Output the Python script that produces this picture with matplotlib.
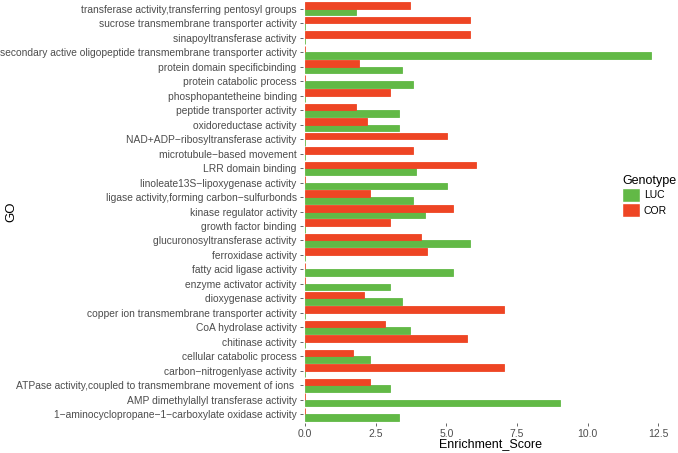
import numpy as np
import matplotlib
matplotlib.use("Agg")
import matplotlib.pyplot as plt
from matplotlib.patches import Patch

plt.rcParams["font.family"] = ["Liberation Sans", "DejaVu Sans"]

# categories listed bottom -> top
terms = [
    "1\u2212aminocyclopropane\u22121\u2212carboxylate oxidase activity",
    "AMP dimethylallyl transferase activity",
    "ATPase activity,coupled to transmembrane movement of ions ",
    "carbon\u2212nitrogenlyase activity",
    "cellular catabolic process",
    "chitinase activity",
    "CoA hydrolase activity",
    "copper ion transmembrane transporter activity",
    "dioxygenase activity",
    "enzyme activator activity",
    "fatty acid ligase activity",
    "ferroxidase activity",
    "glucuronosyltransferase activity",
    "growth factor binding",
    "kinase regulator activity",
    "ligase activity,forming carbon\u2212sulfurbonds",
    "linoleate13S\u2212lipoxygenase activity",
    "LRR domain binding",
    "microtubule\u2212based movement",
    "NAD+ADP\u2212ribosyltransferase activity",
    "oxidoreductase activity",
    "peptide transporter activity",
    "phosphopantetheine binding",
    "protein catabolic process",
    "protein domain specificbinding",
    "secondary active oligopeptide transmembrane transporter activity",
    "sinapoyltransferase activity",
    "sucrose transmembrane transporter activity",
    "transferase activity,transferring pentosyl groups",
]
luc = [3.32, 9.03, 3.01, 0, 2.31, 0, 3.72, 0, 3.42, 3.01, 5.23, 0, 5.83, 0,
       4.23, 3.82, 5.03, 3.92, 0, 0, 3.32, 3.32, 0, 3.82, 3.42, 12.25, 0, 0, 1.8]
cor = [0, 0, 2.31, 7.04, 1.71, 5.73, 2.82, 7.04, 2.1, 0, 0, 4.32, 4.12, 3.01,
       5.23, 2.31, 0, 6.04, 3.82, 5.03, 2.2, 1.8, 3.01, 0, 1.91, 0, 5.84, 5.84, 3.72]
xticks = [0.0, 2.5, 5.0, 7.5, 10.0, 12.5]

GREEN = "#62b946"
RED = "#ee4524"

fig = plt.figure(figsize=(6.78, 4.53), dpi=100)
ax = fig.add_axes([303 / 678, 1 - 423 / 453, 1 - 303 / 678, 423 / 453])

y = np.arange(len(terms))
h = 0.45
ax.barh(y - h / 2, luc, height=h, color=GREEN, edgecolor=GREEN, linewidth=0.6)
ax.barh(y + h / 2, cor, height=h, color=RED, edgecolor=RED, linewidth=0.6)

ax.set_ylim(-0.6, len(terms) - 0.4)
ax.set_xlim(-0.07, 13.2)
ax.set_yticks(y)
ax.set_yticklabels(terms, fontsize=7.4, color="#4d4d4d")
ax.set_xticks(xticks)
ax.set_xticklabels([f"{v:.1f}" for v in xticks], fontsize=7.5, color="#4d4d4d")
ax.tick_params(axis="both", length=2.5, width=0.6, color="#4d4d4d", pad=2)
for s in ax.spines.values():
    s.set_visible(False)
ax.set_xlabel("Enrichment_Score", fontsize=9, labelpad=-1)
ax.set_ylabel("GO", fontsize=9.5)
ax.yaxis.set_label_coords((17 - 303) / 375, 0.5)

handles = [Patch(facecolor=GREEN, edgecolor="white", label="LUC"),
           Patch(facecolor=RED, edgecolor="white", label="COR")]
leg = fig.legend(handles=handles, title="Genotype", loc="upper left",
                 bbox_to_anchor=(622 / 678, 1 - 175 / 453), frameon=False,
                 fontsize=7.5, title_fontsize=9, handlelength=1.7, handleheight=1.7,
                 handletextpad=0.4, labelspacing=0.1, borderaxespad=0, borderpad=0)
leg._legend_box.align = "left"

fig.savefig("out.png", dpi=100)
